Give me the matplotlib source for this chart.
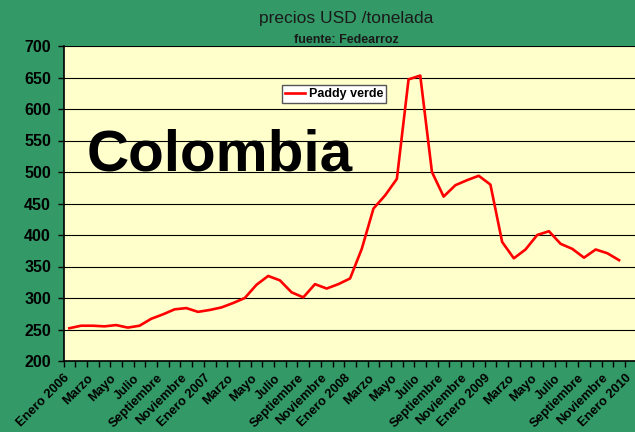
import matplotlib
matplotlib.use("Agg")
from matplotlib import pyplot as plt
import numpy as np

# monthly paddy price, Enero 2006 .. Diciembre 2009 (USD/t)
prices_2006 = [252, 256, 256, 255, 257, 253, 256, 267, 274, 282, 284, 278]
prices_2007 = [281, 285, 292, 300, 321, 335, 328, 309, 301, 322, 315, 322]
prices_2008 = [331, 378, 442, 463, 489, 647, 653, 500, 461, 479, 487, 494]
prices_2009 = [480, 389, 363, 377, 400, 406, 386, 378, 364, 377, 371, 360]
paddy_verde = prices_2006 + prices_2007 + prices_2008 + prices_2009

tick_labels = ['Enero 2006', 'Marzo', 'Mayo', 'Julio', 'Septiembre', 'Noviembre',
               'Enero 2007', 'Marzo', 'Mayo', 'Julio', 'Septiembre', 'Noviembre',
               'Enero 2008', 'Marzo', 'Mayo', 'Julio', 'Septiembre', 'Noviembre',
               'Enero 2009', 'Marzo', 'Mayo', 'Julio', 'Septiembre', 'Noviembre',
               'Enero 2010']

green = '#339966'
plt.rcParams['font.family'] = ['Liberation Sans Narrow', 'Liberation Sans', 'DejaVu Sans']

fig = plt.figure(figsize=(6.35, 4.32), dpi=100, facecolor=green)
ax = fig.add_axes([63.5 / 635, 1 - 361 / 432, 1 - 63.5 / 635, 315 / 432])
ax.set_facecolor('#FFFFCC')

x = np.arange(len(paddy_verde))
ax.plot(x, paddy_verde, color='#FF0000', lw=1.9, label='Paddy verde', zorder=3)

ax.set_ylim(200, 700)
ax.set_yticks(np.arange(200, 701, 50))
ax.yaxis.grid(True, color='black', lw=0.8)
ax.set_axisbelow(True)
ax.tick_params(axis='y', direction='out', length=4, width=1, labelsize=11.5, pad=5)
for t in ax.get_yticklabels():
    t.set_fontweight('bold')

# tick marks on the month boundaries, a label on every second boundary
ax.xaxis.remove_overlapping_locs = False
ax.set_xlim(-0.5, 48.36)
ax.set_xticks(np.arange(-0.5, len(paddy_verde) + 0.5, 1))
ax.set_xticklabels([])
ax.tick_params(axis='x', direction='out', length=4, width=1)
ax.set_xticks(np.arange(-0.5, len(paddy_verde) + 0.5, 2), minor=True)
ax.set_xticklabels(tick_labels, minor=True, rotation=45, ha='right',
                   rotation_mode='anchor', fontsize=9.3, fontweight='bold')
ax.tick_params(axis='x', which='minor', length=0, pad=8)

for s in ['top', 'right']:
    ax.spines[s].set_visible(False)
ax.spines['left'].set_linewidth(1.2)
ax.spines['bottom'].set_linewidth(1.2)

fig.text(0.545, 0.958, 'precios USD /tonelada', ha='center', va='center',
         fontsize=12.5, color='#1a1a1a')
fig.text(0.545, 0.907, 'fuente: Fedearroz', ha='center', va='center',
         fontsize=9, fontweight='bold', color='#1a1a1a')

ax.text(0.040, 0.606, 'Colombia', transform=ax.transAxes, fontsize=42,
        fontweight='bold', color='black', va='baseline')

leg = ax.legend(loc='upper left', bbox_to_anchor=(0.382, 0.876), frameon=True,
                fancybox=False, edgecolor='#555555', framealpha=1,
                prop={'weight': 'bold', 'size': 9},
                handlelength=1.6, borderpad=0.25, handletextpad=0.3,
                borderaxespad=0)
leg.get_frame().set_linewidth(1.0)

fig.savefig('out.png', dpi=100, facecolor=green)
